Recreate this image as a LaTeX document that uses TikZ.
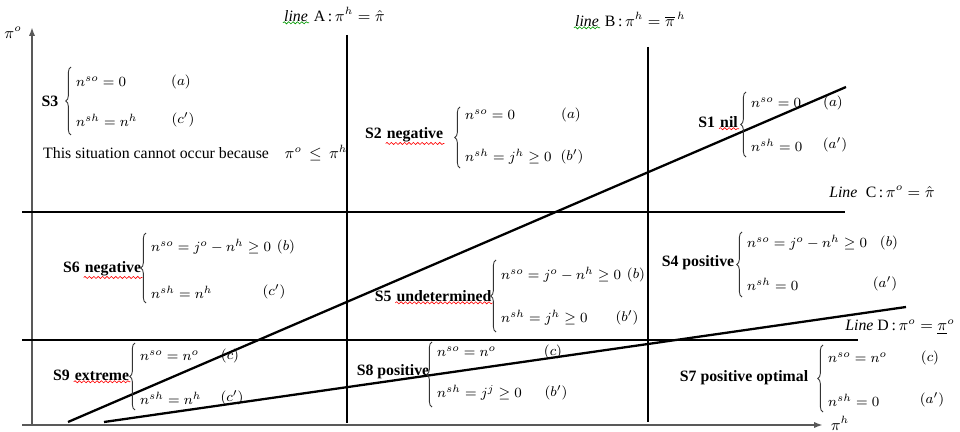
\documentclass[tikz,border=0pt]{standalone}
\usepackage{fontspec}
\setmainfont{Liberation Serif}
\usepackage{amsmath}
\usepackage{tikz}
\usetikzlibrary{arrows.meta, positioning, decorations.pathmorphing, decorations.pathreplacing}

\tikzset{
  sit/.style={font=\fontsize{9}{11}\selectfont\bfseries, inner sep=0.5pt},
  eqn/.style={anchor=west, inner sep=1pt, font=\fontsize{8.5}{10}\selectfont},
  tag/.style={inner sep=1pt, font=\fontsize{8.5}{10}\selectfont},
  lbl/.style={inner sep=0.5pt},
  sysbrace/.style={decorate, decoration={brace, amplitude=3pt}, black!80, line width=0.5pt},
  border/.style={black, line width=0.6pt},
  slope/.style={black, line width=1.3pt},
  axis/.style={black!65, line width=1pt, -{Latex[length=5pt, width=3.5pt]}},
  wavy/.style={decorate, decoration={snake, amplitude=0.6pt, segment length=2.5pt}, line width=0.35pt}
}

\begin{document}
\begin{tikzpicture}[x=0.02cm, y=-0.02cm, font=\fontsize{9}{11}\selectfont]
    \useasboundingbox (0,0) rectangle (960,432);

    % axes
    \coordinate (o) at (32,425);
    \coordinate (ytop) at (32,27);
    \coordinate (xleft) at (22,425);
    \coordinate (xright) at (823,425);
    \draw[axis] (o) -- (ytop);
    \draw[axis] (xleft) -- (xright);
    \node[lbl] (pio) at (13,33) {$\pi^o$};
    \node[lbl] (pih) at (840,423) {$\pi^h$};

    % boundary lines A, B, C, D
    \draw[border] (347,35) -- (347,423);
    \draw[border] (648,47) -- (648,422);
    \draw[border] (22,212) -- (845,212);
    \draw[border] (22,340) -- (858,340);

    % sloped lines
    \draw[slope] (68,422) -- (846,87);
    \draw[slope] (104,422) -- (906,307);

    % line labels
    \node[lbl] (lineA) at (296,16) {\textit{line}};
    \node[lbl, base right=2pt of lineA] (lineAeq) {A\,:\,$\pi^h = \hat{\pi}$};
    \draw[wavy, green!60!black] (lineA.south west) -- (lineA.south east);
    \node[lbl] (lineB) at (587,21) {\textit{line}};
    \node[lbl, base right=2pt of lineB] (lineBeq) {B\,:\,$\pi^h = \overline{\pi}^{\,h}$};
    \draw[wavy, green!60!black] (lineB.south west) -- (lineB.south east);
    \node[lbl] (lineC) at (882,192) {\textit{Line}\; C\,:\,$\pi^o = \hat{\pi}$};
    \node[lbl] (lineD) at (900,327) {\textit{Line} D\,:\,$\pi^o = \underline{\pi}^o$};

    % S3
    \node[sit] (s3) at (50,101) {S3};
    \draw[sysbrace] (71,135) -- (71,67);
    \node[eqn] (s3a) at (74,82) {$n^{so} = 0$};
    \node[tag] (s3ta) at (181,82) {$(a)$};
    \node[eqn] (s3b) at (74,120) {$n^{sh} = n^h$};
    \node[tag] (s3tb) at (183,120) {$(c')$};
    \node[lbl, anchor=west] (s3note) at (42,153) {This situation cannot occur because\quad $\pi^o \,\le\, \pi^h$};

    % S2
    \node[sit] (s2w) at (415,135) {negative};
    \node[sit, base left=1.5pt of s2w] (s2) {S2};
    \draw[wavy, red] (s2w.south west) -- (s2w.south east);
    \draw[sysbrace] (460,168) -- (460,107);
    \node[eqn] (s2a) at (463,115) {$n^{so} = 0$};
    \node[tag] (s2ta) at (571,115) {$(a)$};
    \node[eqn] (s2b) at (463,157) {$n^{sh} = j^h \geq 0$};
    \node[tag] (s2tb) at (572,157) {$(b')$};

    % S1
    \node[sit] (s1w) at (729,122) {nil};
    \node[sit, base left=1.5pt of s1w] (s1) {S1};
    \draw[wavy, red] (s1w.south west) -- (s1w.south east);
    \draw[sysbrace] (746,157) -- (746,92);
    \node[eqn] (s1a) at (749,103) {$n^{so} = 0$};
    \node[tag] (s1ta) at (833,103) {$(a)$};
    \node[eqn] (s1b) at (749,145) {$n^{sh} = 0$};
    \node[tag] (s1tb) at (835,145) {$(a')$};

    % S6
    \node[sit] (s6w) at (113,269) {negative};
    \node[sit, base left=1.5pt of s6w] (s6) {S6};
    \draw[wavy, red] (s6w.south west) -- (s6w.south east);
    \draw[sysbrace] (146,303) -- (146,233);
    \node[eqn] (s6a) at (149,247) {$n^{so} = j^o - n^h \geq 0$};
    \node[tag, right=1pt of s6a] (s6ta) {$(b)$};
    \node[eqn] (s6b) at (149,292) {$n^{sh} = n^h$};
    \node[tag] (s6tb) at (274,292) {$(c')$};

    % S5
    \node[sit] (s5w) at (444,296) {undetermined};
    \node[sit, base left=1.5pt of s5w] (s5) {S5};
    \draw[wavy, red] (s5w.south west) -- (s5w.south east);
    \draw[sysbrace] (496,332) -- (496,260);
    \node[eqn] (s5a) at (499,275) {$n^{so} = j^o - n^h \geq 0$};
    \node[tag, right=1pt of s5a] (s5ta) {$(b)$};
    \node[eqn] (s5b) at (499,318) {$n^{sh} = j^h \geq 0$};
    \node[tag] (s5tb) at (627,318) {$(b')$};

    % S4
    \node[sit] (s4) at (698,263) {S4 positive};
    \draw[sysbrace] (742,297) -- (742,232);
    \node[eqn] (s4a) at (745,243) {$n^{so} = j^o - n^h \geq 0$};
    \node[tag, right=5pt of s4a] (s4ta) {$(b)$};
    \node[eqn] (s4b) at (745,284) {$n^{sh} = 0$};
    \node[tag] (s4tb) at (885,284) {$(a')$};

    % S9
    \node[sit] (s9w) at (102,376) {extreme};
    \node[sit, base left=1.5pt of s9w] (s9) {S9};
    \draw[wavy, red] (s9w.south west) -- (s9w.south east);
    \draw[sysbrace] (135,410) -- (135,343);
    \node[eqn] (s9a) at (138,356) {$n^{so} = n^o$};
    \node[tag] (s9ta) at (230,356) {$(c)$};
    \node[eqn] (s9b) at (138,398) {$n^{sh} = n^h$};
    \node[tag] (s9tb) at (232,398) {$(c')$};

    % S8
    \node[sit] (s8) at (393,372) {S8 positive};
    \draw[sysbrace] (432,407) -- (432,342);
    \node[eqn] (s8a) at (435,352) {$n^{so} = n^o$};
    \node[tag] (s8ta) at (553,352) {$(c)$};
    \node[eqn] (s8b) at (435,393) {$n^{sh} = j^j \geq 0$};
    \node[tag] (s8tb) at (556,393) {$(b')$};

    % S7
    \node[sit] (s7) at (744,378) {S7 positive optimal};
    \draw[sysbrace] (823,412) -- (823,345);
    \node[eqn] (s7a) at (826,358) {$n^{so} = n^o$};
    \node[tag] (s7ta) at (930,358) {$(c)$};
    \node[eqn] (s7b) at (826,400) {$n^{sh} = 0$};
    \node[tag] (s7tb) at (932,400) {$(a')$};
\end{tikzpicture}
\end{document}
